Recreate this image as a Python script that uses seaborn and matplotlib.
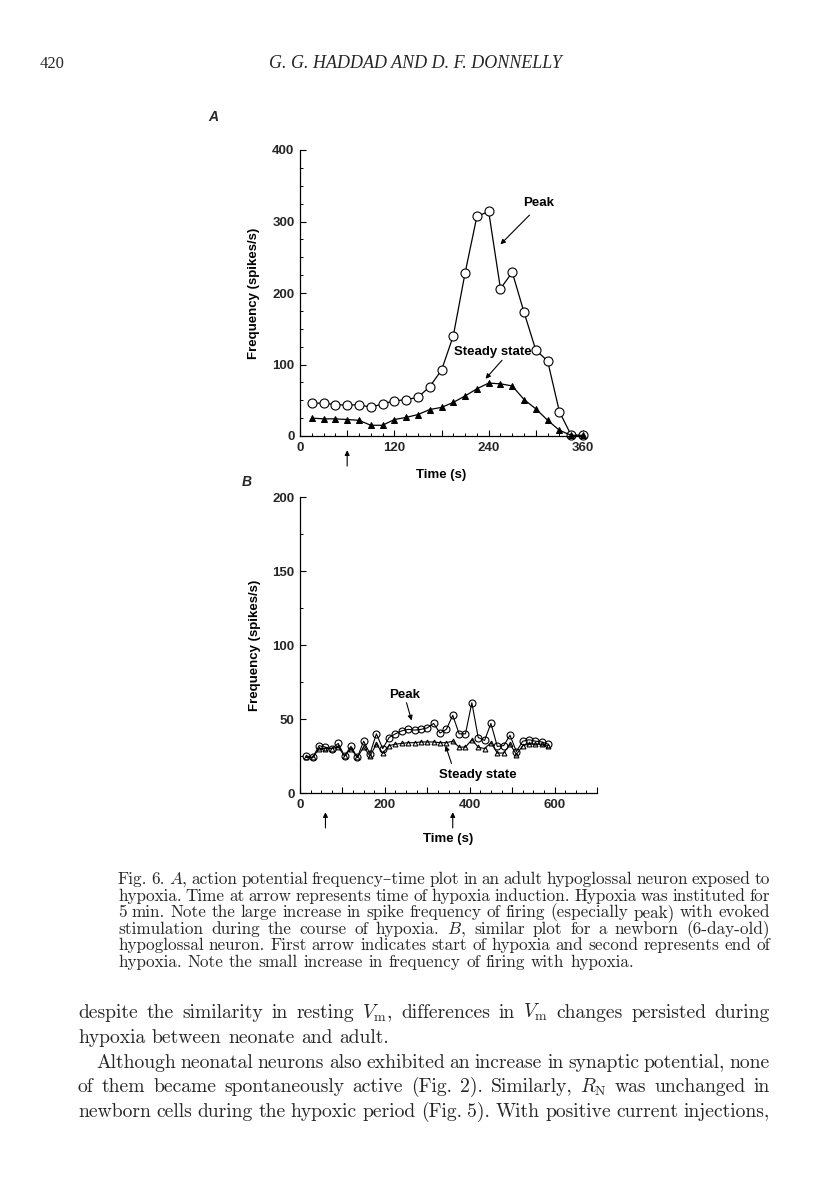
import matplotlib
matplotlib.use("Agg")
import seaborn as sns
from matplotlib import pyplot as plt
from matplotlib.ticker import MultipleLocator, FixedLocator, FixedFormatter

# panel A: adult neuron
time_a = [15, 30, 45, 60, 75, 90, 105, 120, 135, 150, 165, 180,
          195, 210, 225, 240, 255, 270, 285, 300, 315, 330, 345, 360]
peak_a = [46, 46, 44, 43, 44, 40, 45, 49, 51, 54, 69, 92,
          140, 228, 307, 314, 206, 229, 173, 120, 105, 34, 1, 1]
steady_a = [25, 24, 24, 23, 22, 15, 15, 23, 26, 30, 37, 40,
            47, 56, 66, 74, 73, 70, 51, 38, 22, 8, 1, 1]

# panel B: newborn neuron
time_b = [15, 30, 45, 60, 75, 90, 105, 120, 135, 150, 165, 180, 195,
          210, 225, 240, 255, 270, 285, 300, 315, 330, 345, 360, 375,
          390, 405, 420, 435, 450, 465, 480, 495, 510, 525, 540, 555,
          570, 585]
peak_b = [25, 24, 32, 31, 30, 33.5, 25, 31.5, 24, 35, 26.5, 40, 30,
          37.5, 40, 42, 43, 42.5, 43, 44, 47, 40.5, 43, 52.5, 40,
          40, 61, 37.5, 35.5, 47, 31.5, 32, 39, 28, 35, 36, 35,
          34.5, 33]
steady_b = [24, 24, 30, 30, 30, 31, 25, 30, 24, 31, 25, 33, 27,
            32, 33, 33.5, 34, 34, 34.5, 34.5, 34.5, 34, 34, 35, 31,
            31, 36, 31, 30, 34, 27, 27, 33, 26, 32, 33, 33,
            33, 32]

hypoxia_a = [60]
hypoxia_b = [60, 360]

ticks_a = [0, 60, 120, 180, 240, 300, 360]
labels_a = ['0', '', '120', '', '240', '', '360']
ticks_b = [0, 100, 200, 300, 400, 500, 600, 700]
labels_b = ['0', '', '200', '', '400', '', '600', '']

caption = [
    "Fig. 6. $A$, action potential frequency\u2013time plot in an adult hypoglossal neuron exposed to",
    "hypoxia. Time at arrow represents time of hypoxia induction. Hypoxia was instituted for",
    "5 min. Note the large increase in spike frequency of firing (especially peak) with evoked",
    "stimulation during the course of hypoxia. $B$, similar plot for a newborn (6-day-old)",
    "hypoglossal neuron. First arrow indicates start of hypoxia and second represents end of",
    "hypoxia. Note the small increase in frequency of firing with hypoxia.",
]
body = [
    r"despite the similarity in resting $V_\mathrm{m}$, differences in $V_\mathrm{m}$ changes persisted during",
    "hypoxia between neonate and adult.",
    "Although neonatal neurons also exhibited an increase in synaptic potential, none",
    r"of them became spontaneously active (Fig. 2). Similarly, $R_\mathrm{N}$ was unchanged in",
    "newborn cells during the hypoxic period (Fig. 5). With positive current injections,",
]

sns.set_style("ticks", {"xtick.direction": "in", "ytick.direction": "in"})
plt.rcParams['font.family'] = ['Liberation Sans', 'DejaVu Sans']
plt.rcParams['mathtext.fontset'] = 'cm'

W, H = 816, 1198
fig = plt.figure(figsize=(W / 100, H / 100), dpi=100)
sans = dict(fontsize=9.5, fontweight='bold', color='k')


def style_axes(ax, xmax, ymax, ticks, labels, xminor):
    ax.set_xlim(0, xmax)
    ax.set_ylim(0, ymax)
    sns.despine(ax=ax)
    for s in ('left', 'bottom'):
        ax.spines[s].set_linewidth(0.9)
        ax.spines[s].set_color('k')
    ax.xaxis.set_major_locator(FixedLocator(ticks))
    ax.xaxis.set_major_formatter(FixedFormatter(labels))
    ax.xaxis.set_minor_locator(MultipleLocator(xminor))
    ax.yaxis.set_minor_locator(MultipleLocator(25))
    ax.tick_params(which='major', length=4.5, width=0.8, color='k', pad=4)
    ax.tick_params(which='minor', length=2.2, width=0.7, color='k')
    for lab in ax.get_xticklabels() + ax.get_yticklabels():
        lab.set_fontsize(9.5)
        lab.set_fontweight('bold')
    ax.set_xlabel('Time (s)', **sans)
    ax.set_ylabel('Frequency (spikes/s)', **sans)


def arrow(ax, tail, head, **kw):
    ax.annotate('', xy=head, xytext=tail,
                arrowprops=dict(arrowstyle='-|>', color='k', lw=0.8,
                                mutation_scale=7, shrinkA=0, shrinkB=0), **kw)


# ---- panel A
ax_a = fig.add_axes([300 / W, 1 - 436 / H, 283 / W, 286 / H])
sns.lineplot(x=time_a, y=peak_a, ax=ax_a, color='k', lw=0.9, marker='o',
             markersize=6.5, markerfacecolor='white', markeredgecolor='k',
             markeredgewidth=0.8, clip_on=False)
sns.lineplot(x=time_a, y=steady_a, ax=ax_a, color='k', lw=0.9, marker='^',
             markersize=4, markerfacecolor='k', markeredgecolor='k', clip_on=False)
style_axes(ax_a, 360, 400, ticks_a, labels_a, 15)
ax_a.yaxis.set_major_locator(MultipleLocator(100))
ax_a.xaxis.set_label_coords(0.5, -0.115)
ax_a.yaxis.set_label_coords(-0.14, 0.5)
ax_a.text(303, 326, 'Peak', ha='center', va='center', **sans)
arrow(ax_a, (292, 309), (255, 268))
ax_a.text(245, 117, 'Steady state', ha='center', va='center', **sans)
arrow(ax_a, (257, 106), (236, 80))
for t in hypoxia_a:
    arrow(ax_a, (t, -0.105), (t, -0.05), xycoords=ax_a.get_xaxis_transform())

# ---- panel B
ax_b = fig.add_axes([300 / W, 1 - 793 / H, 297 / W, 296 / H])
sns.lineplot(x=time_b, y=peak_b, ax=ax_b, color='k', lw=0.8, marker='o',
             markersize=5, markerfacecolor='none', markeredgecolor='k',
             markeredgewidth=0.8, clip_on=False)
sns.lineplot(x=time_b, y=steady_b, ax=ax_b, color='k', lw=0.8, marker='^',
             markersize=3.5, markerfacecolor='none', markeredgecolor='k',
             markeredgewidth=0.8, clip_on=False)
style_axes(ax_b, 700, 200, ticks_b, labels_b, 25)
ax_b.yaxis.set_major_locator(MultipleLocator(50))
ax_b.xaxis.set_label_coords(0.5, -0.135)
ax_b.yaxis.set_label_coords(-0.132, 0.5)
ax_b.text(247, 66, 'Peak', ha='center', va='center', **sans)
arrow(ax_b, (251, 61), (263, 49))
ax_b.text(419, 12, 'Steady state', ha='center', va='center', **sans)
arrow(ax_b, (357, 20), (343, 32))
for t in hypoxia_b:
    arrow(ax_b, (t, -0.118), (t, -0.065), xycoords=ax_b.get_xaxis_transform())

fig.text(213 / W, 1 - 117 / H, 'A', fontsize=10, fontstyle='italic',
         fontweight='bold', ha='center', va='center')
fig.text(247 / W, 1 - 482 / H, 'B', fontsize=10, fontstyle='italic',
         fontweight='bold', ha='center', va='center')

# ---- page header
serif = ['Liberation Serif', 'DejaVu Serif']
fig.text(40 / W, 1 - 68 / H, '420', family=serif, fontsize=12, va='baseline')
fig.text(415 / W, 1 - 68 / H, 'G. G. HADDAD AND D. F. DONNELLY', family=serif,
         fontsize=13, fontstyle='italic', ha='center', va='baseline')

# ---- justified caption and body text
renderer = fig.canvas.get_renderer()
cm = ['cmr10', 'DejaVu Serif']


def text_width(s, size):
    t = fig.text(0, 0, s, fontsize=size, family=cm)
    w = t.get_window_extent(renderer).width
    t.remove()
    return w


def space_width(size):
    return text_width('x x', size) - text_width('xx', size)


def natural_width(line, size, shrink=0.7):
    # tightest width a line may take when spaces are allowed to shrink
    words = line.split(' ')
    return sum(text_width(w, size) for w in words) + (len(words) - 1) * space_width(size) * shrink


def put_line(line, x0, x1, base, size, justify=True):
    words = line.split(' ')
    widths = [text_width(w, size) for w in words]
    if justify:
        gap = (x1 - x0 - sum(widths)) / (len(words) - 1)
    else:
        gap = space_width(size)
    x = x0
    for w, wd in zip(words, widths):
        fig.text(x / W, 1 - base / H, w, fontsize=size, family=cm,
                 ha='left', va='baseline')
        x += wd + gap


cap_x0, cap_x1 = 118, 770
ratio = min((cap_x1 - cap_x0) / natural_width(l, 10) for l in caption[:-1])
cap_size = 10 * ratio
for i, line in enumerate(caption):
    put_line(line, cap_x0, cap_x1, 884 + i * 16.6, cap_size, justify=i < len(caption) - 1)

body_x0, body_x1, indent = 78, 770, 96
starts = [body_x0, body_x0, indent, body_x0, body_x0]
just = [True, False, True, True, True]
ratio = min((body_x1 - starts[i]) / natural_width(body[i], 10)
            for i in range(len(body)) if just[i])
body_size = 10 * ratio
for i, line in enumerate(body):
    put_line(line, starts[i], body_x1, 1018 + i * 24.8, body_size, justify=just[i])

fig.savefig('out.png', dpi=100)
